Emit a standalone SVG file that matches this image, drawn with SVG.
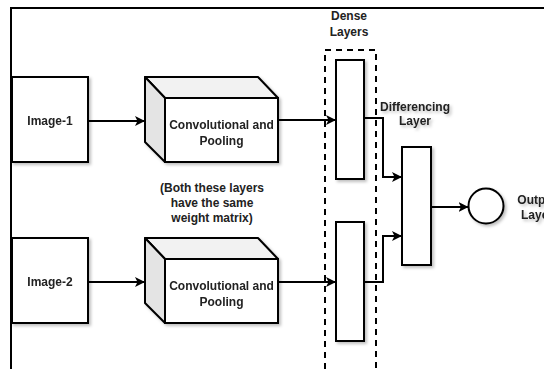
<svg xmlns="http://www.w3.org/2000/svg" width="544" height="369" viewBox="0 0 544 369">
<style>
.box{fill:#fff;stroke:#000;stroke-width:2}
.side{fill:#e4e4e4;stroke:#000;stroke-width:2;stroke-linejoin:round}
.top{fill:#f2f2f2;stroke:#000;stroke-width:2;stroke-linejoin:round}
.t{font-family:"Liberation Sans",Arial,sans-serif;font-weight:bold;font-size:12px;fill:#222;text-anchor:middle}
.c{fill:none;stroke:#000;stroke-width:2}
.dash{fill:none;stroke:#000;stroke-width:2;stroke-dasharray:6,5}
</style>
<defs>
<marker id="arr" viewBox="0 0 10 10" refX="10" refY="5" markerWidth="10" markerHeight="10" markerUnits="userSpaceOnUse" orient="auto">
<path d="M0,0 L10,5 L0,10 L2.5,5 Z" fill="#000"/>
</marker>
<filter id="sh" x="-10%" y="-10%" width="130%" height="130%">
<feDropShadow dx="2" dy="2" stdDeviation="1.5" flood-color="#000" flood-opacity="0.25"/>
</filter>
</defs>
<rect width="544" height="369" fill="#fff"/>
<path d="M11,369 L11,8 L544,8" fill="none" stroke="#000" stroke-width="2"/>

<g id="image1" filter="url(#sh)">
<rect class="box" x="12" y="77" width="76" height="85"/>
<text class="t" x="50" y="125">Image-1</text>
</g>
<g id="image2" filter="url(#sh)">
<rect class="box" x="12" y="238" width="76" height="85"/>
<text class="t" x="50" y="286">Image-2</text>
</g>

<g id="conv1" filter="url(#sh)">
<polygon class="top" points="145,77 258,77 278,98 165,98"/>
<polygon class="side" points="145,77 165,98 165,162 145,142"/>
<rect class="box" x="165" y="98" width="113" height="64"/>
<text class="t" x="221.5" y="129">Convolutional and</text>
<text class="t" x="221.5" y="145">Pooling</text>
</g>
<g id="conv2" filter="url(#sh)">
<polygon class="top" points="145,238 258,238 278,259 165,259"/>
<polygon class="side" points="145,238 165,259 165,323 145,303"/>
<rect class="box" x="165" y="259" width="113" height="64"/>
<text class="t" x="221.5" y="290">Convolutional and</text>
<text class="t" x="221.5" y="306">Pooling</text>
</g>

<g id="note">
<text class="t" x="212" y="192">(Both these layers</text>
<text class="t" x="212" y="207">have the same</text>
<text class="t" x="212" y="222">weight matrix)</text>
</g>

<g id="dense-group">
<path class="dash" d="M325,369 L325,50 L376,50 L376,369"/>
<text class="t" x="349" y="20">Dense</text>
<text class="t" x="349" y="36">Layers</text>
</g>
<g id="dense1" filter="url(#sh)">
<rect class="box" x="336" y="60" width="28" height="119"/>
</g>
<g id="dense2" filter="url(#sh)">
<rect class="box" x="336" y="222" width="28" height="119"/>
</g>

<g id="diff" filter="url(#sh)">
<rect class="box" x="402" y="147" width="29" height="118"/>
<text class="t" x="415" y="111">Differencing</text>
<text class="t" x="415" y="125">Layer</text>
</g>

<g id="output" filter="url(#sh)">
<circle class="box" cx="486" cy="206" r="17.5"/>
<text class="t" x="537" y="204">Output</text>
<text class="t" x="537" y="219">Layer</text>
</g>

<g id="connectors">
<path class="c" d="M88,121 L145,121" marker-end="url(#arr)"/>
<path class="c" d="M88,282 L145,282" marker-end="url(#arr)"/>
<path class="c" d="M278,120 L336,120" marker-end="url(#arr)"/>
<path class="c" d="M278,282 L336,282" marker-end="url(#arr)"/>
<path class="c" d="M364,118 L383,118 L383,177 L402,177" marker-end="url(#arr)"/>
<path class="c" d="M364,282 L383,282 L383,236 L402,236" marker-end="url(#arr)"/>
<path class="c" d="M431,207 L468.5,207" marker-end="url(#arr)"/>
</g>
</svg>
